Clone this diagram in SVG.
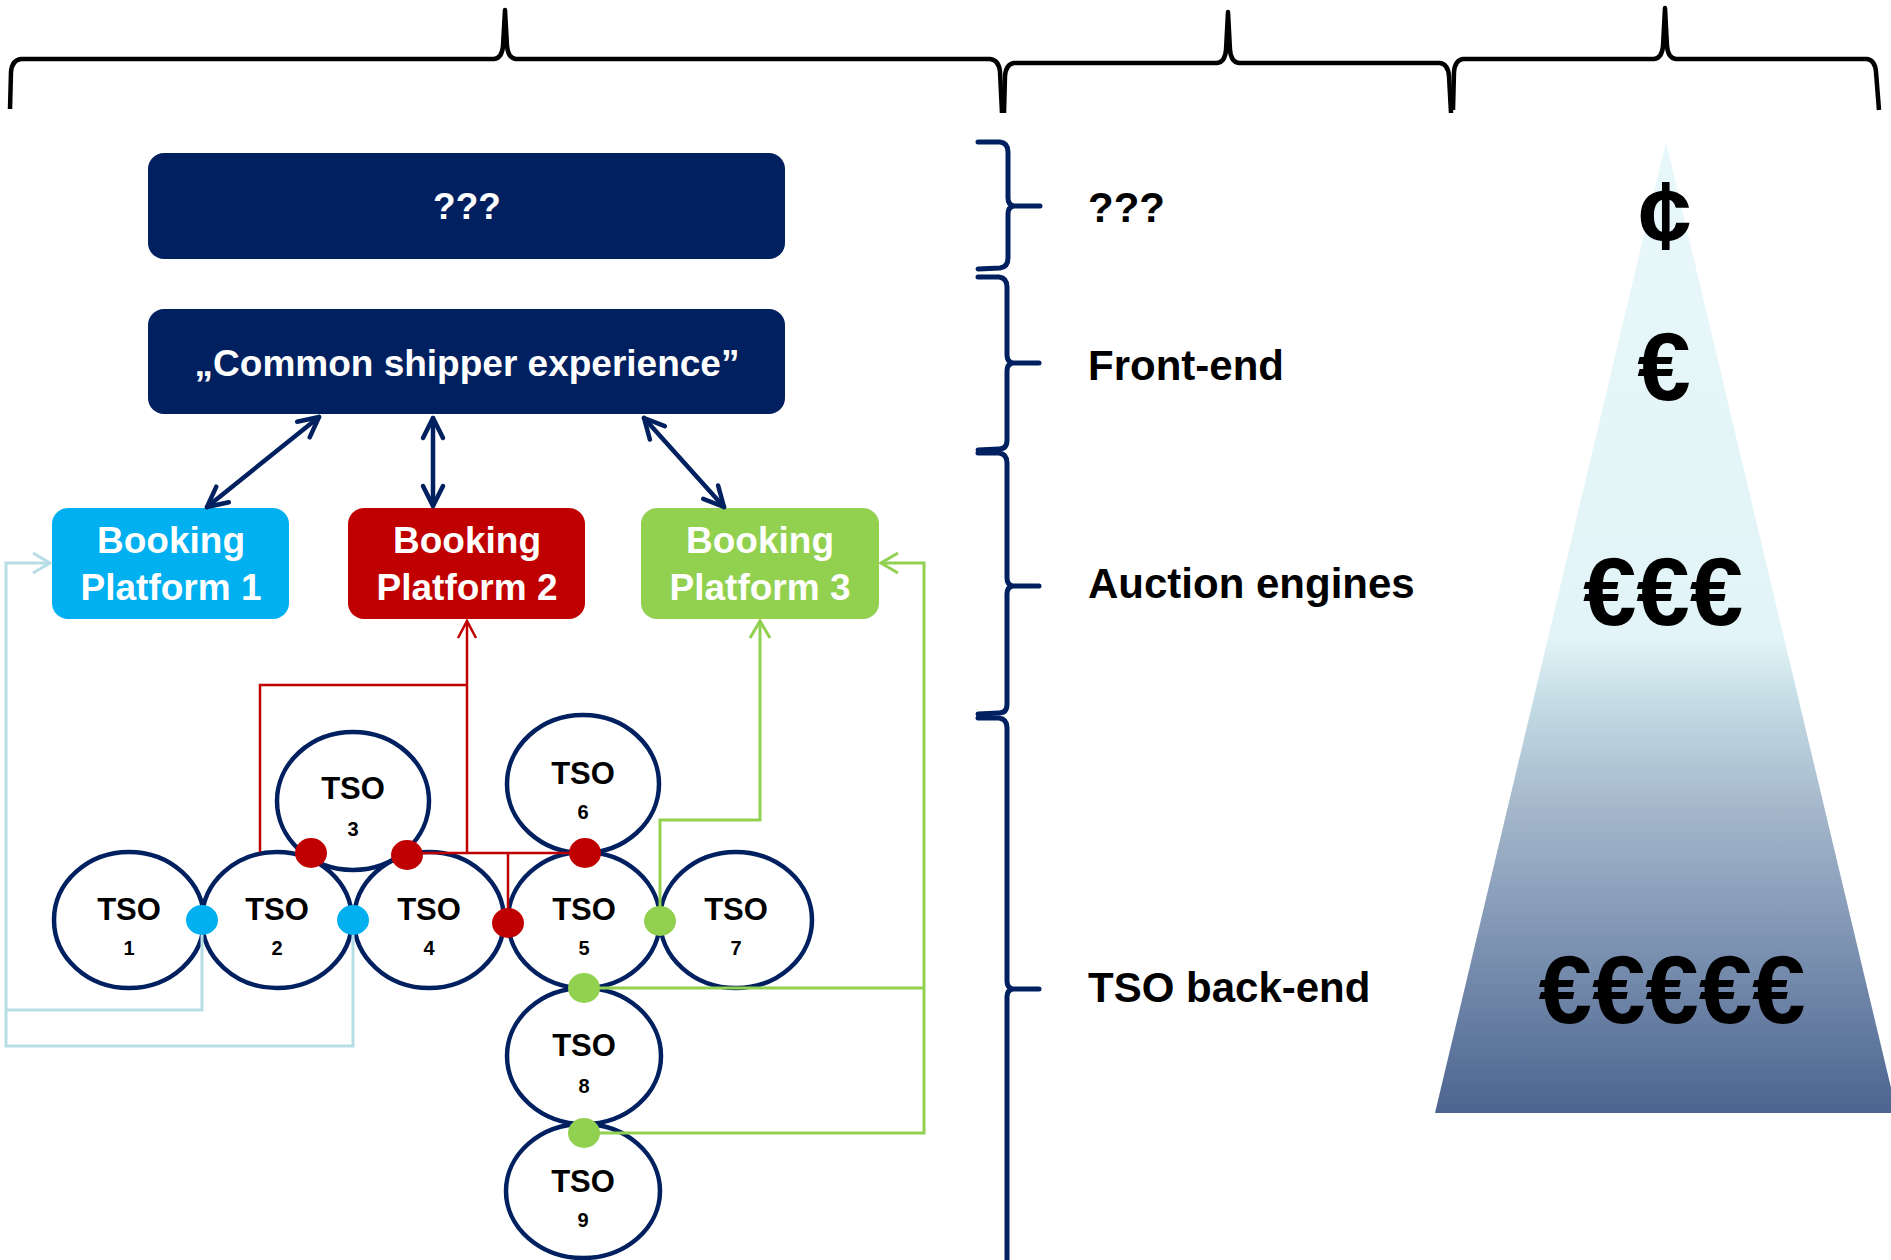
<svg xmlns="http://www.w3.org/2000/svg" width="1891" height="1260" viewBox="0 0 1891 1260">
<defs>
<style>
.navybox{fill:#002060;}
.wtxt{fill:#ffffff;font-family:"Liberation Sans",Arial,sans-serif;font-weight:bold;text-anchor:middle;}
.btxt{fill:#000000;font-family:"Liberation Sans",Arial,sans-serif;font-weight:bold;}
.tso{fill:none;stroke:#002060;stroke-width:4.5;}
.tsol{fill:#000;font-family:"Liberation Sans",Arial,sans-serif;font-weight:bold;text-anchor:middle;font-size:31px;}
.tson{fill:#000;font-family:"Liberation Sans",Arial,sans-serif;font-weight:bold;text-anchor:middle;font-size:20px;}
.brace{fill:none;stroke:#000;stroke-width:4.5;stroke-linejoin:round;}
.nbrace{fill:none;stroke:#002060;stroke-width:5;stroke-linecap:round;stroke-linejoin:round;}
.cur{fill:#000;font-family:"Liberation Sans",Arial,sans-serif;font-weight:bold;text-anchor:middle;font-size:96px;}
.red{fill:none;stroke:#c00000;stroke-width:2.5;}
.lblue{fill:none;stroke:#b7dde6;stroke-width:3;}
.green{fill:none;stroke:#92d050;stroke-width:3;}
.navyarrow{fill:none;stroke:#002060;stroke-width:4.5;stroke-linecap:round;}
</style>
<marker id="mNavy" viewBox="-24 -14 28 28" refX="0" refY="0" markerWidth="28" markerHeight="28" markerUnits="userSpaceOnUse" orient="auto-start-reverse">
<path d="M-20,-10 L0,0 L-20,10" fill="none" stroke="#002060" stroke-width="4.5" stroke-linecap="round" stroke-linejoin="round"/>
</marker>
<marker id="mRed" viewBox="-22 -12 26 24" refX="0" refY="0" markerWidth="26" markerHeight="24" markerUnits="userSpaceOnUse" orient="auto">
<path d="M-17,-9 L0,0 L-17,9" fill="none" stroke="#c00000" stroke-width="2.5"/>
</marker>
<marker id="mBlue" viewBox="-22 -12 26 24" refX="0" refY="0" markerWidth="26" markerHeight="24" markerUnits="userSpaceOnUse" orient="auto">
<path d="M-17,-10 L0,0 L-17,10" fill="none" stroke="#b7dde6" stroke-width="3"/>
</marker>
<marker id="mGreen" viewBox="-22 -12 26 24" refX="0" refY="0" markerWidth="26" markerHeight="24" markerUnits="userSpaceOnUse" orient="auto">
<path d="M-17,-10 L0,0 L-17,10" fill="none" stroke="#92d050" stroke-width="3"/>
</marker>
<linearGradient id="pyr" x1="0" y1="0" x2="0" y2="1">
<stop offset="0" stop-color="#e8f7fa"/>
<stop offset="0.51" stop-color="#e2f4f7"/>
<stop offset="0.58" stop-color="#c3dbe4"/>
<stop offset="0.69" stop-color="#a3b6ca"/>
<stop offset="0.78" stop-color="#8a9fbb"/>
<stop offset="1" stop-color="#4c648f"/>
</linearGradient>
</defs>
<rect x="0" y="0" width="1891" height="1260" fill="#ffffff"/>

<g id="top-braces">
<path class="brace" d="M10 109 L11 72 Q12 60 21 59 L494 59 Q502 58 503 46 L505 10 L507 46 Q508 58 516 59 L990 59 Q999 60 1000 72 L1002 113"/>
<path class="brace" d="M1004 113 L1005 76 Q1006 64 1014 63 L1217 63 Q1225 62 1226 50 L1228 12 L1230 50 Q1231 62 1239 63 L1440 63 Q1448 64 1449 76 L1451 113"/>
<path class="brace" d="M1453 110 L1454 72 Q1455 60 1463 59 L1654 59 Q1662 58 1663 46 L1665 8 L1667 46 Q1668 58 1676 59 L1867 59 Q1875 60 1876 72 L1879 110"/>
</g>

<g id="pyramid">
<polygon points="1666,142 1435,1113 1897,1113" fill="url(#pyr)"/>
<text class="cur" x="1665" y="248">¢</text>
<text class="cur" x="1664" y="400">€</text>
<text class="cur" x="1663" y="625">€€€</text>
<text class="cur" x="1672" y="1023">€€€€€</text>
</g>

<g id="layer-braces">
<path class="nbrace" d="M978 142 L1000 142 Q1008 143 1008 152 L1008 198 Q1008 205 1014 206 L1040 206 M1014 206 Q1008 207 1008 214 L1008 258 Q1008 267 1000 268 L978 269"/>
<path class="nbrace" d="M978 277 L999 277 Q1007 278 1007 287 L1007 355 Q1007 362 1013 363 L1039 363 M1013 363 Q1007 364 1007 371 L1007 440 Q1007 449 999 449 L978 450"/>
<path class="nbrace" d="M978 453 L999 453 Q1007 454 1007 463 L1007 578 Q1007 585 1013 586 L1039 586 M1013 586 Q1007 587 1007 594 L1007 704 Q1007 713 999 713 L978 714"/>
<path class="nbrace" d="M978 718 L999 718 Q1007 719 1007 728 L1007 981 Q1007 988 1013 989 L1039 989 M1013 989 Q1007 990 1007 997 L1007 1262"/>
</g>

<g id="layer-labels">
<text class="btxt" x="1088" y="222" font-size="42">???</text>
<text class="btxt" x="1088" y="380" font-size="42">Front-end</text>
<text class="btxt" x="1088" y="598" font-size="42">Auction engines</text>
<text class="btxt" x="1088" y="1002" font-size="42">TSO back-end</text>
</g>

<g id="node-unknown">
<rect class="navybox" x="148" y="153" width="637" height="106" rx="16"/>
<text class="wtxt" x="467" y="219" font-size="37">???</text>
</g>

<g id="node-common">
<rect class="navybox" x="148" y="309" width="637" height="105" rx="16"/>
<text class="wtxt" x="467" y="376" font-size="37">„Common shipper experience”</text>
</g>

<g id="node-bp1">
<rect x="52" y="508" width="237" height="111" rx="16" fill="#00b0f0"/>
<text class="wtxt" x="171" y="553" font-size="37">Booking</text>
<text class="wtxt" x="171" y="600" font-size="37">Platform 1</text>
</g>
<g id="node-bp2">
<rect x="348" y="508" width="237" height="111" rx="16" fill="#c00000"/>
<text class="wtxt" x="467" y="553" font-size="37">Booking</text>
<text class="wtxt" x="467" y="600" font-size="37">Platform 2</text>
</g>
<g id="node-bp3">
<rect x="641" y="508" width="238" height="111" rx="16" fill="#92d050"/>
<text class="wtxt" x="760" y="553" font-size="37">Booking</text>
<text class="wtxt" x="760" y="600" font-size="37">Platform 3</text>
</g>

<g id="node-tso1"><ellipse class="tso" cx="129" cy="920" rx="75" ry="68"/><text class="tsol" x="129" y="920">TSO</text><text class="tson" x="129" y="955">1</text></g>
<g id="node-tso2"><ellipse class="tso" cx="277" cy="920" rx="75" ry="68"/><text class="tsol" x="277" y="920">TSO</text><text class="tson" x="277" y="955">2</text></g>
<g id="node-tso3"><ellipse class="tso" cx="353" cy="801" rx="76" ry="69"/><text class="tsol" x="353" y="799">TSO</text><text class="tson" x="353" y="836">3</text></g>
<g id="node-tso4"><ellipse class="tso" cx="429" cy="920" rx="75" ry="68"/><text class="tsol" x="429" y="920">TSO</text><text class="tson" x="429" y="955">4</text></g>
<g id="node-tso5"><ellipse class="tso" cx="584" cy="920" rx="76" ry="68"/><text class="tsol" x="584" y="920">TSO</text><text class="tson" x="584" y="955">5</text></g>
<g id="node-tso6"><ellipse class="tso" cx="583" cy="784" rx="76" ry="69"/><text class="tsol" x="583" y="784">TSO</text><text class="tson" x="583" y="819">6</text></g>
<g id="node-tso7"><ellipse class="tso" cx="736" cy="920" rx="76" ry="68"/><text class="tsol" x="736" y="920">TSO</text><text class="tson" x="736" y="955">7</text></g>
<g id="node-tso8"><ellipse class="tso" cx="584" cy="1056" rx="77" ry="68"/><text class="tsol" x="584" y="1056">TSO</text><text class="tson" x="584" y="1093">8</text></g>
<g id="node-tso9"><ellipse class="tso" cx="583" cy="1191" rx="77" ry="67"/><text class="tsol" x="583" y="1192">TSO</text><text class="tson" x="583" y="1227">9</text></g>

<g id="connectors">
<line class="navyarrow" x1="319" y1="417" x2="207" y2="507" marker-start="url(#mNavy)" marker-end="url(#mNavy)"/>
<line class="navyarrow" x1="433" y1="418" x2="433" y2="506" marker-start="url(#mNavy)" marker-end="url(#mNavy)"/>
<line class="navyarrow" x1="644" y1="418" x2="724" y2="507" marker-start="url(#mNavy)" marker-end="url(#mNavy)"/>

<path class="red" d="M260 852 L260 685 L467 685"/>
<path class="red" d="M467 853 L467 621" marker-end="url(#mRed)"/>
<path class="red" d="M407 853 L585 853"/>
<path class="red" d="M508 853 L508 923"/>

<path class="lblue" d="M202 920 L202 1010 L6 1010"/>
<path class="lblue" d="M353 920 L353 1046 L6 1046 L6 563 L50 563" marker-end="url(#mBlue)"/>

<path class="green" d="M660 921 L660 820 L760 820 L760 621" marker-end="url(#mGreen)"/>
<path class="green" d="M584 1133 L924 1133 L924 563 L881 563" marker-end="url(#mGreen)"/>
<path class="green" d="M584 988 L924 988"/>
</g>

<g id="junctions">
<ellipse cx="202" cy="920" rx="16" ry="15" fill="#00b0f0"/>
<ellipse cx="353" cy="920" rx="16" ry="15" fill="#00b0f0"/>
<ellipse cx="311" cy="853" rx="16" ry="15" fill="#c00000"/>
<ellipse cx="407" cy="855" rx="16" ry="15" fill="#c00000"/>
<ellipse cx="508" cy="923" rx="16" ry="15" fill="#c00000"/>
<ellipse cx="585" cy="853" rx="16" ry="15" fill="#c00000"/>
<ellipse cx="660" cy="921" rx="16" ry="15" fill="#92d050"/>
<ellipse cx="584" cy="988" rx="16" ry="15" fill="#92d050"/>
<ellipse cx="584" cy="1133" rx="16" ry="15" fill="#92d050"/>
</g>
</svg>
